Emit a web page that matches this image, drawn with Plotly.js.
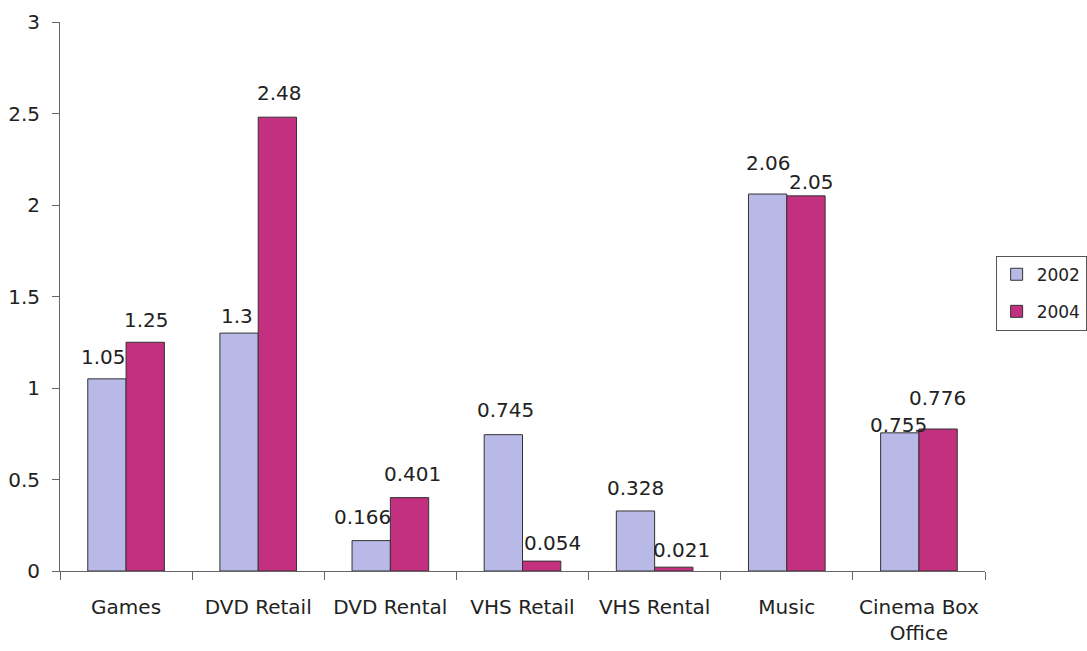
<!DOCTYPE html>
<html><head><meta charset="utf-8">
<script src="https://cdn.plot.ly/plotly-3.0.1.min.js"></script>
<style>html,body{margin:0;padding:0;background:#fff}#chart{width:1087px;height:651px}</style>
</head><body><div id="chart"></div>
<script>
const categories = ["Games", "DVD Retail", "DVD Rental", "VHS Retail", "VHS Rental", "Music", "Cinema Box<br>Office"];
const values2002 = [1.05, 1.3, 0.166, 0.745, 0.328, 2.06, 0.755];
const values2004 = [1.25, 2.48, 0.401, 0.054, 0.021, 2.05, 0.776];
const seriesNames = ["2002", "2004"];
const yTicks = [0, 0.5, 1, 1.5, 2, 2.5, 3];

// label placement (pixel offsets of each value label from its bar top centre), as in the reference
const labelDx2002 = [-4, -2, -9, 2, 0, 1, -1];
const labelDy2002 = [22, 17, 24, 25, 23, 31, 8];
const labelDx2004 = [1, 2, 3, 11, 8, 6, 0];
const labelDy2004 = [22, 24, 24, 18, 17, 14, 31];

const fam = "DejaVu Sans, Verdana, sans-serif";
const txt = {family: fam, size: 20, color: "#222"};
const mk = (name, vals, color, grp) => ({
  type: "bar", name: name, x: categories, y: vals, legendgroup: grp,
  marker: {color: color, line: {color: "#333", width: 1}},
  hoverinfo: "x+y"
});
const data = [
  mk(seriesNames[0], values2002, "#b9b9e8", "a"),
  mk(seriesNames[1], values2004, "#c2307f", "b")
];
const barHalf = 19;
const annotations = [];
categories.forEach((c, i) => {
  annotations.push({x: c, y: values2002[i], xref: "x", yref: "y", text: String(values2002[i]),
    showarrow: false, xanchor: "center", yanchor: "middle",
    xshift: -barHalf + labelDx2002[i], yshift: labelDy2002[i], font: txt});
  annotations.push({x: c, y: values2004[i], xref: "x", yref: "y", text: String(values2004[i]),
    showarrow: false, xanchor: "center", yanchor: "middle",
    xshift: barHalf + labelDx2004[i], yshift: labelDy2004[i], font: txt});
});
const layout = {
  width: 1087, height: 651,
  margin: {l: 60, r: 102, t: 22, b: 80, autoexpand: false},
  barmode: "group", bargap: 0.42, bargroupgap: 0,
  font: txt,
  paper_bgcolor: "#fff", plot_bgcolor: "#fff",
  showlegend: true,
  annotations: annotations,
  legend: {x: 1.0115, xanchor: "left", y: 0.506, yanchor: "middle",
    bordercolor: "#555", borderwidth: 1, font: {family: fam, size: 17, color: "#222"},
    tracegroupgap: 12, itemwidth: 30},
  xaxis: {showline: true, linecolor: "#666", linewidth: 1, ticks: "outside",
    tickson: "boundaries", ticklen: 8, tickcolor: "#666", showgrid: false,
    ticklabelstandoff: 18,
    tickfont: {family: fam, size: 20, color: "#222"}},
  yaxis: {range: [0, 3], tickvals: yTicks, ticktext: yTicks.map(String),
    showline: true, linecolor: "#666", linewidth: 1, ticks: "outside", ticklen: 7,
    tickcolor: "#666", showgrid: false, zeroline: false, ticklabelstandoff: 8,
    tickfont: {family: fam, size: 20, color: "#222"}}
};
Plotly.newPlot("chart", data, layout, {displayModeBar: false});
</script></body></html>
